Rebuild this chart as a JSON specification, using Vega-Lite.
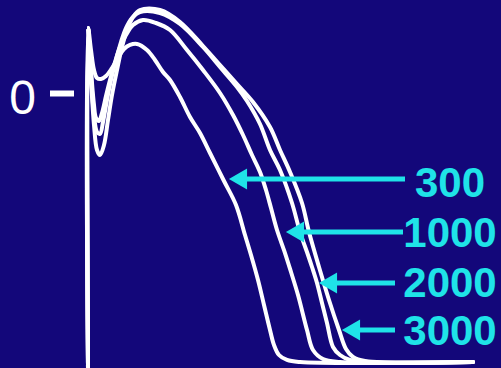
{
  "$schema": "https://vega.github.io/schema/vega-lite/v6.json",
  "width": 501,
  "height": 368,
  "autosize": {"type": "none"},
  "padding": 0,
  "background": "#13077a",
  "config": {"view": {"stroke": null}},
  "datasets": {
    "traces": [
      {"rate": "300", "t": 0, "mV": -91.5},
      {"rate": "300", "t": 0, "mV": 21.83},
      {"rate": "300", "t": 3, "mV": 14.5},
      {"rate": "300", "t": 6, "mV": 7.83},
      {"rate": "300", "t": 9, "mV": 5.17},
      {"rate": "300", "t": 13, "mV": 4.83},
      {"rate": "300", "t": 18, "mV": 5.83},
      {"rate": "300", "t": 24, "mV": 8.5},
      {"rate": "300", "t": 30, "mV": 11.83},
      {"rate": "300", "t": 36, "mV": 14.83},
      {"rate": "300", "t": 42, "mV": 16.17},
      {"rate": "300", "t": 49, "mV": 16.5},
      {"rate": "300", "t": 59, "mV": 14.5},
      {"rate": "300", "t": 67, "mV": 11.17},
      {"rate": "300", "t": 75, "mV": 7.17},
      {"rate": "300", "t": 82, "mV": 4.5},
      {"rate": "300", "t": 92, "mV": -1.17},
      {"rate": "300", "t": 102, "mV": -7.83},
      {"rate": "300", "t": 112, "mV": -13.17},
      {"rate": "300", "t": 122, "mV": -19.83},
      {"rate": "300", "t": 136, "mV": -29.17},
      {"rate": "300", "t": 148, "mV": -37.17},
      {"rate": "300", "t": 157, "mV": -47.17},
      {"rate": "300", "t": 163, "mV": -53.83},
      {"rate": "300", "t": 170, "mV": -62.17},
      {"rate": "300", "t": 176, "mV": -70.5},
      {"rate": "300", "t": 182, "mV": -78.83},
      {"rate": "300", "t": 186, "mV": -83.83},
      {"rate": "300", "t": 191, "mV": -87.17},
      {"rate": "300", "t": 199, "mV": -88.83},
      {"rate": "300", "t": 212, "mV": -89.5},
      {"rate": "300", "t": 385, "mV": -89.5},

      {"rate": "1000", "t": 0, "mV": -91.5},
      {"rate": "1000", "t": 0, "mV": 21.83},
      {"rate": "1000", "t": 3, "mV": 7.83},
      {"rate": "1000", "t": 6, "mV": -3.83},
      {"rate": "1000", "t": 8, "mV": -8.17},
      {"rate": "1000", "t": 11, "mV": -9.17},
      {"rate": "1000", "t": 14, "mV": -6.5},
      {"rate": "1000", "t": 18, "mV": -0.83},
      {"rate": "1000", "t": 22, "mV": 4.5},
      {"rate": "1000", "t": 27, "mV": 10.5},
      {"rate": "1000", "t": 32, "mV": 15.5},
      {"rate": "1000", "t": 38, "mV": 19.5},
      {"rate": "1000", "t": 45, "mV": 22.83},
      {"rate": "1000", "t": 55, "mV": 24.5},
      {"rate": "1000", "t": 68, "mV": 23.5},
      {"rate": "1000", "t": 82, "mV": 21.17},
      {"rate": "1000", "t": 99, "mV": 14.5},
      {"rate": "1000", "t": 115, "mV": 7.83},
      {"rate": "1000", "t": 132, "mV": 0.17},
      {"rate": "1000", "t": 145, "mV": -7.17},
      {"rate": "1000", "t": 155, "mV": -13.83},
      {"rate": "1000", "t": 164, "mV": -20.5},
      {"rate": "1000", "t": 172, "mV": -26.17},
      {"rate": "1000", "t": 178, "mV": -32.17},
      {"rate": "1000", "t": 183, "mV": -38.17},
      {"rate": "1000", "t": 189, "mV": -45.5},
      {"rate": "1000", "t": 197, "mV": -53.17},
      {"rate": "1000", "t": 203, "mV": -59.5},
      {"rate": "1000", "t": 210, "mV": -67.17},
      {"rate": "1000", "t": 219, "mV": -78.83},
      {"rate": "1000", "t": 225, "mV": -85.5},
      {"rate": "1000", "t": 235, "mV": -88.5},
      {"rate": "1000", "t": 252, "mV": -89.5},
      {"rate": "1000", "t": 385, "mV": -89.5},

      {"rate": "2000", "t": 0, "mV": -91.5},
      {"rate": "2000", "t": 0, "mV": 21.83},
      {"rate": "2000", "t": 3, "mV": 6.17},
      {"rate": "2000", "t": 6, "mV": -7.17},
      {"rate": "2000", "t": 9, "mV": -12.83},
      {"rate": "2000", "t": 12, "mV": -13.5},
      {"rate": "2000", "t": 15, "mV": -9.5},
      {"rate": "2000", "t": 19, "mV": -2.17},
      {"rate": "2000", "t": 23, "mV": 4.5},
      {"rate": "2000", "t": 28, "mV": 11.17},
      {"rate": "2000", "t": 33, "mV": 17.17},
      {"rate": "2000", "t": 38, "mV": 21.83},
      {"rate": "2000", "t": 44, "mV": 25.17},
      {"rate": "2000", "t": 52, "mV": 27.17},
      {"rate": "2000", "t": 72, "mV": 26.83},
      {"rate": "2000", "t": 92, "mV": 23.17},
      {"rate": "2000", "t": 115, "mV": 15.5},
      {"rate": "2000", "t": 132, "mV": 8.83},
      {"rate": "2000", "t": 149, "mV": 2.17},
      {"rate": "2000", "t": 159, "mV": -2.5},
      {"rate": "2000", "t": 172, "mV": -10.17},
      {"rate": "2000", "t": 182, "mV": -18.83},
      {"rate": "2000", "t": 192, "mV": -25.5},
      {"rate": "2000", "t": 204, "mV": -36.5},
      {"rate": "2000", "t": 212, "mV": -46.17},
      {"rate": "2000", "t": 220, "mV": -53.83},
      {"rate": "2000", "t": 224, "mV": -57.83},
      {"rate": "2000", "t": 229, "mV": -63.17},
      {"rate": "2000", "t": 234, "mV": -69.83},
      {"rate": "2000", "t": 239, "mV": -76.5},
      {"rate": "2000", "t": 245, "mV": -84.5},
      {"rate": "2000", "t": 252, "mV": -87.17},
      {"rate": "2000", "t": 262, "mV": -88.83},
      {"rate": "2000", "t": 282, "mV": -89.5},
      {"rate": "2000", "t": 385, "mV": -89.5},

      {"rate": "3000", "t": 0, "mV": -91.5},
      {"rate": "3000", "t": 0, "mV": 21.83},
      {"rate": "3000", "t": 3, "mV": 4.5},
      {"rate": "3000", "t": 6, "mV": -10.5},
      {"rate": "3000", "t": 9, "mV": -18.83},
      {"rate": "3000", "t": 12, "mV": -20.5},
      {"rate": "3000", "t": 16, "mV": -17.17},
      {"rate": "3000", "t": 20, "mV": -8.83},
      {"rate": "3000", "t": 24, "mV": -0.5},
      {"rate": "3000", "t": 29, "mV": 7.83},
      {"rate": "3000", "t": 34, "mV": 15.5},
      {"rate": "3000", "t": 39, "mV": 21.17},
      {"rate": "3000", "t": 45, "mV": 25.5},
      {"rate": "3000", "t": 52, "mV": 27.83},
      {"rate": "3000", "t": 72, "mV": 27.83},
      {"rate": "3000", "t": 92, "mV": 23.83},
      {"rate": "3000", "t": 115, "mV": 15.83},
      {"rate": "3000", "t": 132, "mV": 9.5},
      {"rate": "3000", "t": 149, "mV": 3.17},
      {"rate": "3000", "t": 165, "mV": -2.83},
      {"rate": "3000", "t": 182, "mV": -11.17},
      {"rate": "3000", "t": 192, "mV": -18.83},
      {"rate": "3000", "t": 202, "mV": -26.17},
      {"rate": "3000", "t": 214, "mV": -36.5},
      {"rate": "3000", "t": 221, "mV": -46.17},
      {"rate": "3000", "t": 231, "mV": -57.83},
      {"rate": "3000", "t": 241, "mV": -68.83},
      {"rate": "3000", "t": 251, "mV": -78.83},
      {"rate": "3000", "t": 258, "mV": -85.17},
      {"rate": "3000", "t": 265, "mV": -87.83},
      {"rate": "3000", "t": 277, "mV": -89.17},
      {"rate": "3000", "t": 385, "mV": -89.5}
    ],
    "arrows": [
      {"rate": "300", "tip": 141, "base": 150, "tail": 317, "mV": -28.5, "labelT": 362, "labelMV": -34.5},
      {"rate": "1000", "tip": 198, "base": 207, "tail": 315, "mV": -46.17, "labelT": 362, "labelMV": -51.17},
      {"rate": "2000", "tip": 231, "base": 240, "tail": 307, "mV": -63.17, "labelT": 362, "labelMV": -67.83},
      {"rate": "3000", "tip": 254, "base": 263, "tail": 307, "mV": -78.83, "labelT": 362, "labelMV": -83.83}
    ],
    "zero": [
      {"label": "0", "labelT": -65.5, "labelMV": -6.83, "tickFrom": -38, "tickTo": -14, "mV": 0}
    ]
  },
  "layer": [
    {
      "data": {"name": "traces"},
      "mark": {"type": "line", "color": "#ffffff", "strokeWidth": 4, "interpolate": "catmull-rom", "strokeCap": "round", "strokeJoin": "round", "clip": true},
      "encoding": {
        "x": {"field": "t", "type": "quantitative", "scale": {"domain": [-88, 413], "nice": false, "zero": false}, "axis": null},
        "y": {"field": "mV", "type": "quantitative", "scale": {"domain": [-91.5, 31.1667], "nice": false, "zero": false}, "axis": null},
        "detail": {"field": "rate", "type": "nominal"},
        "order": {"value": null}
      }
    },
    {
      "data": {"name": "arrows"},
      "mark": {"type": "rule", "color": "#1fe3e8", "strokeWidth": 5},
      "encoding": {
        "x": {"field": "base", "type": "quantitative", "scale": {"domain": [-88, 413], "nice": false, "zero": false}, "axis": null},
        "x2": {"field": "tail"},
        "y": {"field": "mV", "type": "quantitative", "scale": {"domain": [-91.5, 31.1667], "nice": false, "zero": false}, "axis": null}
      }
    },
    {
      "data": {"name": "arrows"},
      "mark": {"type": "point", "shape": "triangle-left", "size": 441, "filled": true, "opacity": 1, "color": "#1fe3e8", "xOffset": 9},
      "encoding": {
        "x": {"field": "tip", "type": "quantitative", "scale": {"domain": [-88, 413], "nice": false, "zero": false}, "axis": null},
        "y": {"field": "mV", "type": "quantitative", "scale": {"domain": [-91.5, 31.1667], "nice": false, "zero": false}, "axis": null}
      }
    },
    {
      "data": {"name": "arrows"},
      "mark": {"type": "text", "color": "#1fe3e8", "font": "Liberation Sans", "fontWeight": "bold", "fontSize": 42, "align": "center", "baseline": "alphabetic"},
      "encoding": {
        "x": {"field": "labelT", "type": "quantitative", "scale": {"domain": [-88, 413], "nice": false, "zero": false}, "axis": null},
        "y": {"field": "labelMV", "type": "quantitative", "scale": {"domain": [-91.5, 31.1667], "nice": false, "zero": false}, "axis": null},
        "text": {"field": "rate", "type": "nominal"}
      }
    },
    {
      "data": {"name": "zero"},
      "mark": {"type": "rule", "color": "#ffffff", "strokeWidth": 6},
      "encoding": {
        "x": {"field": "tickFrom", "type": "quantitative", "scale": {"domain": [-88, 413], "nice": false, "zero": false}, "axis": null},
        "x2": {"field": "tickTo"},
        "y": {"field": "mV", "type": "quantitative", "scale": {"domain": [-91.5, 31.1667], "nice": false, "zero": false}, "axis": null}
      }
    },
    {
      "data": {"name": "zero"},
      "mark": {"type": "text", "color": "#ffffff", "font": "Liberation Sans", "fontSize": 48, "align": "center", "baseline": "alphabetic"},
      "encoding": {
        "x": {"field": "labelT", "type": "quantitative", "scale": {"domain": [-88, 413], "nice": false, "zero": false}, "axis": null},
        "y": {"field": "labelMV", "type": "quantitative", "scale": {"domain": [-91.5, 31.1667], "nice": false, "zero": false}, "axis": null},
        "text": {"field": "label", "type": "nominal"}
      }
    }
  ]
}
